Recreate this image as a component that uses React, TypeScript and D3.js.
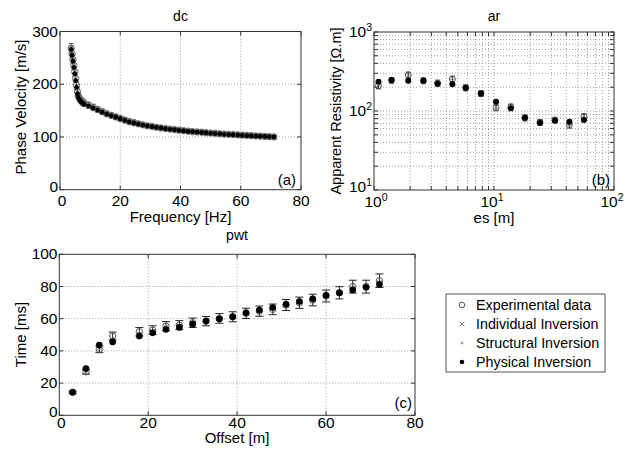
import React from 'react';
import * as d3 from 'd3';

const FONT = "'Liberation Sans', Arial, sans-serif";

// ---------- (a) dc : dispersion curve ----------
const dcFreq = [3.7, 4.0, 4.3, 4.6, 4.9, 5.2, 5.5, 5.8, 6.1, 6.5, 7.0, 7.5, 8.0, 9.5, 11, 12.5, 14, 15.5, 17, 18.5, 20, 21.5, 23, 24.5, 26, 27.5, 29, 30.5, 32, 33.5, 35, 36.5, 38, 39.5, 41, 42.5, 44, 45.5, 47, 48.5, 50, 51.5, 53, 54.5, 56, 57.5, 59, 60.5, 62, 63.5, 65, 66.5, 68, 69.5, 71];
const dcExp = [268, 258, 247, 236, 224, 211, 198, 186, 178, 173, 169, 166, 164, 160, 156, 152, 148, 144, 141, 138, 135, 132, 129, 127, 125, 123, 121, 120, 118.5, 117, 116, 115, 114, 113, 112, 111, 110, 109.5, 109, 108, 107.5, 107, 106, 105.5, 105, 104.5, 104, 103.5, 103, 102.5, 102, 101.5, 101, 100.5, 100];
const dcPhys = [266, 255, 244, 232, 220, 207, 194, 182, 175, 170, 167, 164, 162, 159, 155, 151, 147, 143.5, 140.5, 137.5, 134.5, 131.5, 128.5, 126.5, 124.5, 122.5, 121, 119.5, 118, 117, 115.5, 114.5, 113.5, 112.5, 111.5, 110.5, 110, 109, 108.5, 108, 107, 106.5, 106, 105, 104.5, 104, 103.5, 103, 102.5, 102, 101.5, 101.5, 101, 100.5, 100];
const dcIndiv = [269, 257, 246, 235, 223, 210, 197, 185, 177, 172, 168, 165, 163, 160, 156, 152, 148, 144, 141, 138, 135, 132, 129, 127, 125, 123, 121, 120, 118.5, 117, 116, 115, 114, 113, 112, 111, 110, 109.5, 109, 108, 107.5, 107, 106, 105.5, 105, 104.5, 104, 103.5, 103, 102.5, 102, 101.5, 101, 100.5, 100];
const dcStruct = [266, 255, 244, 232, 220, 207, 194, 182, 175, 170, 167, 164, 162, 159, 155, 151, 147, 143.5, 140.5, 137.5, 134.5, 131.5, 128.5, 126.5, 124.5, 122.5, 121, 119.5, 118, 117, 115.5, 114.5, 113.5, 112.5, 111.5, 110.5, 110, 109, 108.5, 108, 107, 106.5, 106, 105, 104.5, 104, 103.5, 103, 102.5, 102, 101.5, 101.5, 101, 100.5, 100];
const dcErr = [9, 9, 8, 8, 8, 7, 7, 7, 6, 6, 6, 6, 6, 6, 6, 5, 5, 5, 5, 5, 5, 5, 5, 5, 4, 4, 4, 4, 4, 4, 4, 4, 4, 4, 4, 4, 4, 4, 4, 4, 4, 4, 4, 4, 4, 4, 4, 4, 4, 4, 4, 4, 4, 4, 4];
const dcXTicks = [0, 20, 40, 60, 80];
const dcYTicks = [0, 100, 200, 300];

// ---------- (b) ar : apparent resistivity ----------
const arSpacing = [1.09, 1.40, 1.93, 2.58, 3.39, 4.50, 5.81, 7.79, 10.4, 13.8, 18.1, 24.2, 32.2, 42.5, 56.2];
const arExp = [209, 245, 286, 242, 226, 254, 197, 167, 110, 113, 82, 72, 77, 67, 85];
const arPhys = [234, 247, 242, 242, 222, 218, 197, 166, 131, 108, 82, 71, 75, 73, 77];
const arIndiv = [215, 250, 280, 250, 232, 262, 200, 170, 112, 104, 80, 70, 78, 64, 86];
const arStruct = [228, 244, 246, 240, 225, 222, 196, 165, 126, 109, 83, 72, 75, 71, 79];
const arErr = [18, 20, 24, 20, 19, 21, 17, 14, 9, 9, 7, 6, 6, 6, 7];
const arXDecades = [1, 10, 100];
const arYDecades = [10, 100, 1000];
const arMinorMult = [2, 3, 4, 5, 6, 7, 8, 9];

// ---------- (c) pwt : travel times ----------
const pwtOffset = [3, 6, 9, 12, 18, 21, 24, 27, 30, 33, 36, 39, 42, 45, 48, 51, 54, 57, 60, 63, 66, 69, 72];
const pwtExp = [14.3, 27, 41, 49.2, 51.9, 52.9, 55.4, 56, 57.5, 58.5, 60.2, 61.2, 63.3, 64.7, 65.8, 68.5, 69.9, 71.6, 74.1, 76.1, 79.9, 79.9, 83.6];
const pwtPhys = [14.3, 29, 43.6, 45.6, 49.2, 51.2, 53.3, 54.6, 56.6, 58.5, 59.8, 61.2, 63.7, 65.4, 67, 69, 70.7, 72.4, 74.5, 76.1, 77.8, 79.5, 81.3];
const pwtIndiv = [14.5, 28, 42, 47, 50.5, 52, 54.5, 55.5, 57, 58.5, 60, 61, 63.5, 65, 66.5, 68.5, 70.5, 72, 74, 76, 79, 80, 82.5];
const pwtStruct = [14.3, 28.5, 43, 46.5, 50, 51.5, 54, 55, 57, 58.5, 60, 61, 63.5, 65, 66.5, 69, 70.5, 72, 74.5, 76, 78.5, 79.5, 82];
const pwtErr = [0.7, 1.4, 2.1, 2.5, 2.6, 2.7, 2.8, 2.8, 2.9, 2.9, 3.0, 3.1, 3.2, 3.2, 3.3, 3.4, 3.5, 3.6, 3.7, 3.8, 4.0, 4.0, 4.2];
const pwtXTicks = [0, 20, 40, 60, 80];
const pwtYTicks = [0, 20, 40, 60, 80, 100];

const legendLabels = ['Experimental data', 'Individual Inversion', 'Structural Inversion', 'Physical Inversion'];

const AXIS = '#333';
const GRID = '#a0a0a0';
const TICK_FS = 15.5;

type Scale = any;

function Frame({ xs, ys, xGrid, yGrid, xTickVals, yTickVals }: { xs: Scale; ys: Scale; xGrid: number[]; yGrid: number[]; xTickVals: number[]; yTickVals: number[] }) {
  const [xl, xr] = xs.range();
  const [yb, yt] = ys.range();
  const tl = 4;
  return (
    <g>
      {xGrid.map((v, i) => (
        <line key={'gx' + i} x1={xs(v)} x2={xs(v)} y1={yb} y2={yt} stroke={GRID} strokeWidth={1} strokeDasharray="1,2" />
      ))}
      {yGrid.map((v, i) => (
        <line key={'gy' + i} x1={xl} x2={xr} y1={ys(v)} y2={ys(v)} stroke={GRID} strokeWidth={1} strokeDasharray="1,2" />
      ))}
      <rect x={xl} y={yt} width={xr - xl} height={yb - yt} fill="none" stroke={AXIS} strokeWidth={1} />
      {xTickVals.map((v, i) => (
        <g key={'tx' + i}>
          <line x1={xs(v)} x2={xs(v)} y1={yb} y2={yb - tl} stroke={AXIS} />
          <line x1={xs(v)} x2={xs(v)} y1={yt} y2={yt + tl} stroke={AXIS} />
        </g>
      ))}
      {yTickVals.map((v, i) => (
        <g key={'ty' + i}>
          <line x1={xl} x2={xl + tl} y1={ys(v)} y2={ys(v)} stroke={AXIS} />
          <line x1={xr} x2={xr - tl} y1={ys(v)} y2={ys(v)} stroke={AXIS} />
        </g>
      ))}
    </g>
  );
}

function Series({ xs, ys, xv, exp, indiv, struct, phys, err, cap, rPhys, rExp, errColor, expColor }: any) {
  return (
    <g>
      {xv.map((x: number, i: number) => {
        const cx = xs(x);
        const yTop = ys(exp[i] + err[i]);
        const yBot = ys(exp[i] - err[i]);
        return (
          <g key={'e' + i} stroke={errColor} strokeWidth={1}>
            <line x1={cx} x2={cx} y1={yTop} y2={yBot} />
            <line x1={cx - cap} x2={cx + cap} y1={yTop} y2={yTop} />
            <line x1={cx - cap} x2={cx + cap} y1={yBot} y2={yBot} />
          </g>
        );
      })}
      {xv.map((x: number, i: number) => (
        <circle key={'o' + i} cx={xs(x)} cy={ys(exp[i])} r={rExp} fill="none" stroke={expColor} strokeWidth={1} />
      ))}
      {xv.map((x: number, i: number) => {
        const cx = xs(x), cy = ys(indiv[i]), s = 2.3;
        return (
          <path key={'x' + i} d={`M${cx - s},${cy - s}L${cx + s},${cy + s}M${cx - s},${cy + s}L${cx + s},${cy - s}`} stroke="#777" strokeWidth={1} />
        );
      })}
      {xv.map((x: number, i: number) => (
        <circle key={'s' + i} cx={xs(x)} cy={ys(struct[i])} r={1.4} fill="#aaa" />
      ))}
      {xv.map((x: number, i: number) => (
        <circle key={'p' + i} cx={xs(x)} cy={ys(phys[i])} r={rPhys} fill="#000" />
      ))}
    </g>
  );
}

function Pow10({ x, y, exp, anchor }: { x: number; y: number; exp: number; anchor: string }) {
  return (
    <text x={x} y={y} textAnchor={anchor} fontFamily={FONT} fontSize={TICK_FS} fill="#000">
      <tspan>10</tspan>
      <tspan dy={-6} fontSize={10.5}>{exp}</tspan>
    </text>
  );
}

export default function App() {
  const xa = d3.scaleLinear().domain([0, 80]).range([60, 301]);
  const ya = d3.scaleLinear().domain([0, 300]).range([189.7, 31.5]);
  const xb = d3.scaleLog().domain([1, 100]).range([374, 614]);
  const yb = d3.scaleLog().domain([10, 1000]).range([190, 32]);
  const xc = d3.scaleLinear().domain([0, 80]).range([59.3, 415]);
  const yc = d3.scaleLinear().domain([0, 100]).range([415.3, 254.3]);

  const minorB = (decs: number[]) => {
    const out: number[] = [];
    for (let k = 0; k < decs.length - 1; k++) arMinorMult.forEach((m) => out.push(decs[k] * m));
    return out;
  };
  const xbMinor = minorB(arXDecades);
  const ybMinor = minorB(arYDecades);

  const lx = 446, ly = 294, lw = 159, lh = 78;
  const rowsY = [305, 324, 343, 362];

  return (
    <svg width={633} height={451} style={{ position: 'absolute', left: 0, top: 0, background: '#fff' }}>
      <rect x={0} y={0} width={633} height={451} fill="#fff" />

      {/* (a) */}
      <Frame xs={xa} ys={ya} xGrid={[20, 40, 60]} yGrid={[100, 200]} xTickVals={dcXTicks} yTickVals={dcYTicks} />
      <Series xs={xa} ys={ya} xv={dcFreq} exp={dcExp} indiv={dcIndiv} struct={dcStruct} phys={dcPhys} err={dcErr} cap={2.2} rPhys={2.4} rExp={3.2} errColor="#444" expColor="#666" />
      {dcXTicks.map((v) => (
        <text key={'ax' + v} x={xa(v) + (v === 0 ? 2 : 0)} y={206} textAnchor="middle" fontFamily={FONT} fontSize={TICK_FS}>{v}</text>
      ))}
      {dcYTicks.map((v) => (
        <text key={'ay' + v} x={58} y={ya(v) + 5 - (v === 0 ? 3 : 0)} textAnchor="end" fontFamily={FONT} fontSize={TICK_FS}>{v}</text>
      ))}
      <text x={180.5} y={21} textAnchor="middle" fontFamily={FONT} fontSize={14}>dc</text>
      <text x={180.5} y={222} textAnchor="middle" fontFamily={FONT} fontSize={15}>Frequency [Hz]</text>
      <text transform="translate(26,107) rotate(-90)" textAnchor="middle" fontFamily={FONT} fontSize={15}>Phase Velocity [m/s]</text>
      <text x={296} y={185} textAnchor="end" fontFamily={FONT} fontSize={15}>(a)</text>

      {/* (b) */}
      <Frame xs={xb} ys={yb} xGrid={[10, ...xbMinor]} yGrid={[100, ...ybMinor]} xTickVals={[...arXDecades, ...xbMinor]} yTickVals={[...arYDecades, ...ybMinor]} />
      <Series xs={xb} ys={yb} xv={arSpacing} exp={arExp} indiv={arIndiv} struct={arStruct} phys={arPhys} err={arErr} cap={2.5} rPhys={3} rExp={3} errColor="#222" expColor="#555" />
      {arXDecades.map((v, i) => (
        <Pow10 key={'bx' + v} x={xb(v) + (i === 0 ? 2 : -2)} y={207} exp={i} anchor="middle" />
      ))}
      {arYDecades.map((v, i) => (
        <Pow10 key={'by' + v} x={372} y={yb(v) + 5 - (i === 0 ? 3 : 0)} exp={i + 1} anchor="end" />
      ))}
      <text x={494} y={21} textAnchor="middle" fontFamily={FONT} fontSize={14}>ar</text>
      <text x={494} y={223} textAnchor="middle" fontFamily={FONT} fontSize={15}>es [m]</text>
      <text transform="translate(341,111) rotate(-90)" textAnchor="middle" fontFamily={FONT} fontSize={14.5}>Apparent Resistivity [Ω.m]</text>
      <text x={610} y={185} textAnchor="end" fontFamily={FONT} fontSize={15}>(b)</text>

      {/* (c) */}
      <Frame xs={xc} ys={yc} xGrid={[20, 40, 60]} yGrid={[20, 40, 60, 80]} xTickVals={pwtXTicks} yTickVals={pwtYTicks} />
      <Series xs={xc} ys={yc} xv={pwtOffset} exp={pwtExp} indiv={pwtIndiv} struct={pwtStruct} phys={pwtPhys} err={pwtErr} cap={4} rPhys={3.3} rExp={3.2} errColor="#222" expColor="#555" />
      {pwtXTicks.map((v) => (
        <text key={'cx' + v} x={xc(v) + (v === 0 ? 2 : 0)} y={427.5} textAnchor="middle" fontFamily={FONT} fontSize={TICK_FS}>{v}</text>
      ))}
      {pwtYTicks.map((v) => (
        <text key={'cy' + v} x={57.5} y={yc(v) + 5 - (v === 0 ? 3 : 0)} textAnchor="end" fontFamily={FONT} fontSize={TICK_FS}>{v}</text>
      ))}
      <text x={237} y={240} textAnchor="middle" fontFamily={FONT} fontSize={14}>pwt</text>
      <text x={237} y={443} textAnchor="middle" fontFamily={FONT} fontSize={15}>Offset [m]</text>
      <text transform="translate(26,334.5) rotate(-90)" textAnchor="middle" fontFamily={FONT} fontSize={15}>Time [ms]</text>
      <text x={412} y={408} textAnchor="end" fontFamily={FONT} fontSize={15}>(c)</text>

      {/* legend */}
      <rect x={lx} y={ly} width={lw} height={lh} fill="#fff" stroke="#555" strokeWidth={1} />
      <circle cx={462} cy={rowsY[0]} r={2.8} fill="none" stroke="#555" />
      <path d={`M${462 - 2.3},${rowsY[1] - 2.3}L${462 + 2.3},${rowsY[1] + 2.3}M${462 - 2.3},${rowsY[1] + 2.3}L${462 + 2.3},${rowsY[1] - 2.3}`} stroke="#777" strokeWidth={1} />
      <circle cx={462} cy={rowsY[2]} r={1.4} fill="#aaa" />
      <circle cx={462} cy={rowsY[3]} r={2.3} fill="#000" />
      {legendLabels.map((t, i) => (
        <text key={t} x={476} y={rowsY[i] + 5} fontFamily={FONT} fontSize={14.3}>{t}</text>
      ))}
    </svg>
  );
}
